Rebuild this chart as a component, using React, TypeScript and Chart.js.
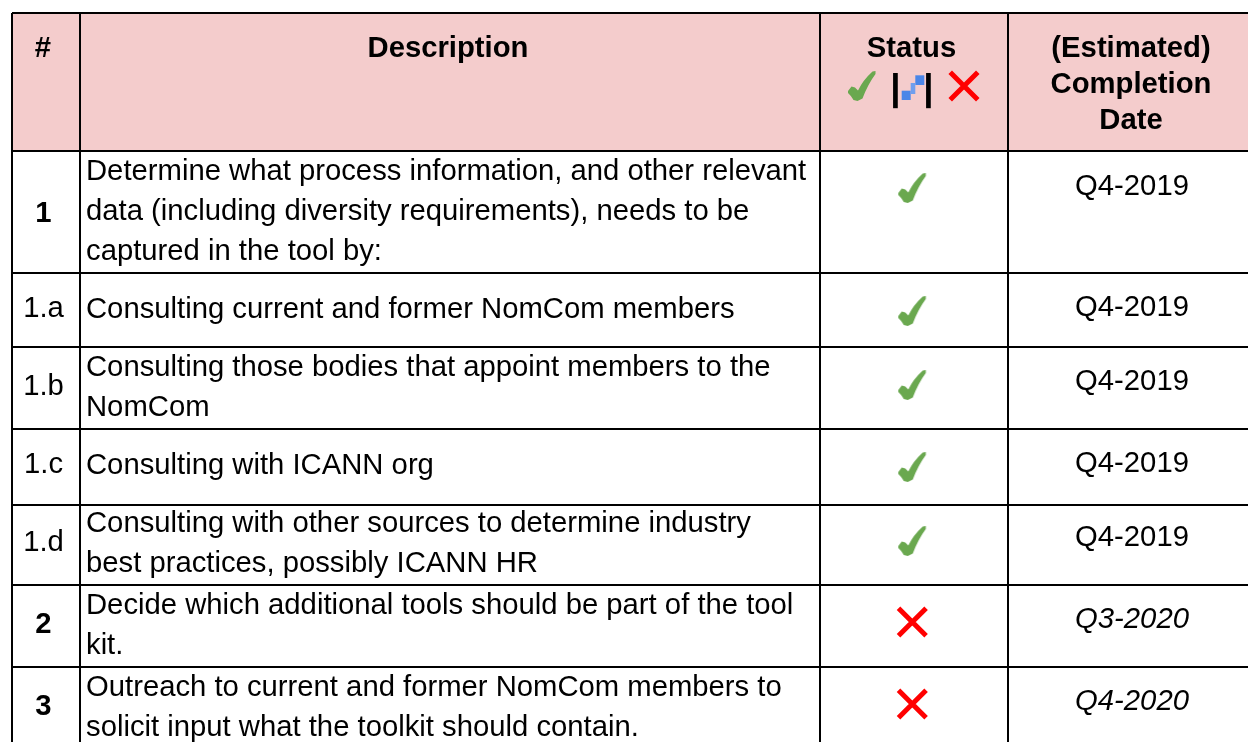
import { useEffect, useRef } from "react";
import { Chart, registerables } from "chart.js";

Chart.register(...registerables);

const columnEdges = [12, 80, 820, 1008];
const rowEdges = [13, 151, 272.5, 347, 429, 505, 585, 667];
const rowLabels = ["1", "1.a", "1.b", "1.c", "1.d", "2", "3"];
const boldLabels = [true, false, false, false, false, true, true];
const descriptions = [
  ["Determine what process information, and other relevant", "data (including diversity requirements), needs to be", "captured in the tool by:"],
  ["Consulting current and former NomCom members"],
  ["Consulting those bodies that appoint members to the", "NomCom"],
  ["Consulting with ICANN org"],
  ["Consulting with other sources to determine industry", "best practices, possibly ICANN HR"],
  ["Decide which additional tools should be part of the tool", "kit."],
  ["Outreach to current and former NomCom members to", "solicit input what the toolkit should contain."],
];
const statuses = ["done", "done", "done", "done", "done", "todo", "todo"];
const dates = ["Q4-2019", "Q4-2019", "Q4-2019", "Q4-2019", "Q4-2019", "Q3-2020", "Q4-2020"];
const italicDates = [false, false, false, false, false, true, true];
const headers = [["#"], ["Description"], ["Status"], ["(Estimated)", "Completion", "Date"]];

const FONT = '"Liberation Sans", Arial, sans-serif';

function checkIcon() {
  const c = document.createElement("canvas");
  c.width = 30; c.height = 32;
  const g = c.getContext("2d")!;
  g.fillStyle = "#6aa84f";
  g.beginPath();
  g.moveTo(1, 21);
  g.lineTo(4.5, 16.5);
  g.lineTo(8, 17.5);
  g.lineTo(11, 20.5);
  g.quadraticCurveTo(16, 10, 25.5, 1.5);
  g.lineTo(28.5, 1);
  g.lineTo(28.5, 4);
  g.quadraticCurveTo(21, 14, 15.5, 28.5);
  g.lineTo(10.5, 31);
  g.lineTo(6.5, 30);
  g.quadraticCurveTo(4, 25.5, 1, 23);
  g.closePath();
  g.fill();
  return c;
}

function progressIcon() {
  const c = document.createElement("canvas");
  c.width = 24; c.height = 26;
  const g = c.getContext("2d")!;
  g.fillStyle = "#4a86e8";
  g.fillRect(0.7, 15.7, 9, 9.3);
  g.fillRect(14.3, 0.3, 9, 9.7);
  g.fillStyle = "#6f9fee";
  g.fillRect(9.7, 8, 4.6, 11);
  return c;
}

export default function App() {
  const ref = useRef<HTMLCanvasElement>(null);
  useEffect(() => {
    const xC = (a: number) => (columnEdges[a] + (columnEdges[a + 1] ?? 1254)) / 2;
    const statusX = 912.3;
    const statusY = [188, 311, 385, 467, 541, 622, 704];
    const labelBase = [221.5, 317, 395, 473, 551, 632.5, 715];
    const descBase = [180, 318, 376, 474, 532, 614, 696];
    const dateBase = [194.5, 315.5, 389.5, 471.5, 545.5, 627.5, 709.5];
    const done = statuses.map((s, i) => (s === "done" ? { x: statusX, y: statusY[i] } : null)).filter(Boolean);
    const todo = statuses.map((s, i) => (s === "todo" ? { x: statusX, y: statusY[i] } : null)).filter(Boolean);

    const table = {
      id: "table",
      beforeDraw(chart: any) {
        const { x, y } = chart.scales;
        const g = chart.ctx;
        g.save();
        g.fillStyle = "#f4cccc";
        g.fillRect(x.getPixelForValue(columnEdges[0]), y.getPixelForValue(rowEdges[0]), x.getPixelForValue(1248) - x.getPixelForValue(columnEdges[0]), y.getPixelForValue(rowEdges[1]) - y.getPixelForValue(rowEdges[0]));
        g.restore();
      },
      afterDatasetsDraw(chart: any) {
        const { x, y } = chart.scales;
        const g = chart.ctx;
        const put = (t: string, px: number, py: number, font: string, align: CanvasTextAlign) => {
          g.font = font;
          g.textAlign = align;
          g.fillText(t, x.getPixelForValue(px), y.getPixelForValue(py));
        };
        g.save();
        g.fillStyle = "#000";
        g.textBaseline = "alphabetic";
        const bold = `bold 29.25px ${FONT}`;
        const reg = `29.25px ${FONT}`;
        const ital = `italic 29.25px ${FONT}`;
        headers.forEach((lines, c) => {
          const cx = c === 0 ? 43 : c === 2 ? 911.5 : c === 3 ? 1131 : xC(c) - 2;
          lines.forEach((t, l) => put(t, cx, 56.5 + l * 36, bold, "center"));
        });
        put("|", 895.5, 100, `bold 37px ${FONT}`, "center");
        put("|", 928.5, 100, `bold 37px ${FONT}`, "center");
        rowLabels.forEach((t, i) => {
          put(t, 43.5, labelBase[i], boldLabels[i] ? bold : reg, "center");
          descriptions[i].forEach((d, l) => put(d, 86, descBase[i] + l * 40, reg, "left"));
          put(dates[i], 1132, dateBase[i], italicDates[i] ? ital : reg, "center");
        });
        g.restore();
      },
    };

    const chart = new Chart(ref.current!, {
      type: "scatter",
      data: {
        datasets: [
          { label: "Done", data: done as any, pointStyle: checkIcon() as any },
          { label: "Not started", data: todo as any, pointStyle: "crossRot", pointRadius: 19.5, borderColor: "#ff0000", pointBorderWidth: 5 } as any,
          { label: "Key done", data: [{ x: 862, y: 86 }], pointStyle: checkIcon() as any },
          { label: "Key progress", data: [{ x: 913, y: 88 }], pointStyle: progressIcon() as any },
          { label: "Key not started", data: [{ x: 964, y: 86 }], pointStyle: "crossRot", pointRadius: 19.5, borderColor: "#ff0000", pointBorderWidth: 5 } as any,
        ],
      },
      options: {
        responsive: false,
        animation: false,
        layout: { autoPadding: false, padding: { left: 12, top: 13, right: 0, bottom: 0 } },
        plugins: { legend: { display: false }, tooltip: { enabled: false } },
        scales: {
          x: {
            type: "linear", min: 12, max: 1248,
            afterBuildTicks: (s: any) => { s.ticks = columnEdges.map((value) => ({ value })); },
            ticks: { display: false },
            border: { display: false },
            grid: { color: "#000", lineWidth: 2, drawTicks: false },
          },
          y: {
            type: "linear", min: 13, max: 742, reverse: true,
            afterBuildTicks: (s: any) => { s.ticks = rowEdges.map((value) => ({ value })); },
            ticks: { display: false },
            border: { display: false },
            grid: { color: "#000", lineWidth: 2, drawTicks: false },
          },
        },
      },
      plugins: [table],
    } as any);
    return () => chart.destroy();
  }, []);
  return (
    <div style={{ position: "fixed", left: 0, top: 0, width: 1248, height: 742, background: "#fff" }}>
      <canvas ref={ref} width={1248} height={742} style={{ display: "block" }} />
    </div>
  );
}
